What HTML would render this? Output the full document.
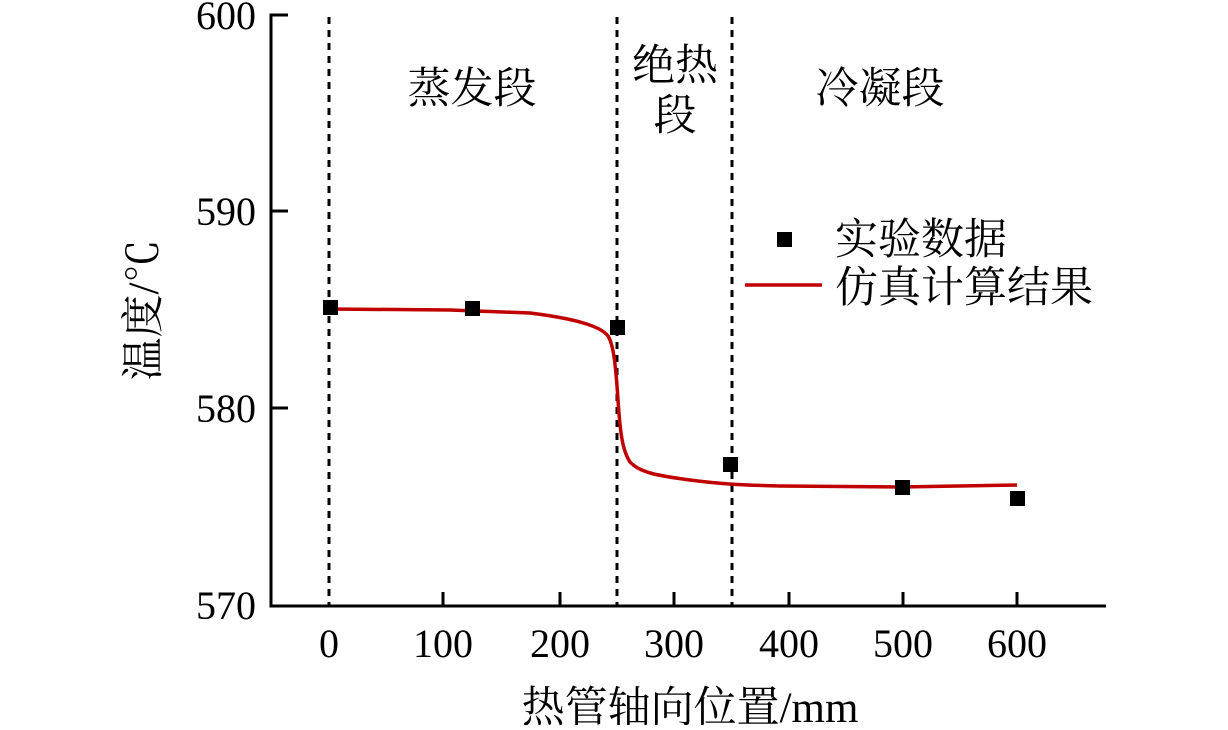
<!DOCTYPE html>
<html><head><meta charset="utf-8"><style>
body{margin:0;background:#fff;}
text{font-family:"Liberation Serif","Noto Serif CJK SC",serif;fill:#000;}
</style></head><body>
<svg width="1228" height="725" viewBox="0 0 1228 725" xmlns="http://www.w3.org/2000/svg">
<g stroke="#000" stroke-width="3" stroke-dasharray="7,6">
<line x1="329" y1="17" x2="329" y2="605"/>
<line x1="617" y1="17" x2="617" y2="605"/>
<line x1="732" y1="17" x2="732" y2="605"/>
</g>
<g stroke="#000" stroke-width="3" fill="none">
<polyline points="288,15 271,15 271,606 1106,606"/>
<line x1="271" y1="211" x2="288" y2="211"/>
<line x1="271" y1="408" x2="288" y2="408"/>
<line x1="443" y1="606" x2="443" y2="592"/>
<line x1="560" y1="606" x2="560" y2="592"/>
<line x1="674" y1="606" x2="674" y2="592"/>
<line x1="789" y1="606" x2="789" y2="592"/>
<line x1="903" y1="606" x2="903" y2="592"/>
<line x1="1017" y1="606" x2="1017" y2="592"/>
</g>
<path d="M329,309 L450,310 L530,313 C570,318 600,325 608,336 C614,345 616,370 618,400 C620,430 622,450 630,462 C640,473 660,476 690,480 C720,484 740,485 780,486 L900,487 L1017,485" stroke="#c00000" stroke-width="3.5" fill="none"/>
<g fill="#000">
<rect x="323" y="300" width="15" height="15"/>
<rect x="465" y="301" width="15" height="15"/>
<rect x="610" y="320" width="15" height="15"/>
<rect x="723" y="457" width="15" height="15"/>
<rect x="895" y="480" width="15" height="15"/>
<rect x="1010" y="491" width="15" height="15"/>
<rect x="777" y="232" width="15" height="15"/>
</g>
<line x1="745" y1="285" x2="822" y2="285" stroke="#c00000" stroke-width="3.5"/>
<g font-size="43">
<text x="835" y="254">实验数据</text>
<text x="835" y="302">仿真计算结果</text>
<text x="472" y="103" text-anchor="middle">蒸发段</text>
<text x="675" y="80" text-anchor="middle">绝热</text>
<text x="675" y="130" text-anchor="middle">段</text>
<text x="880" y="103" text-anchor="middle">冷凝段</text>
<text x="690" y="722" text-anchor="middle">热管轴向位置/mm</text>
<text transform="translate(158,310) rotate(-90)" text-anchor="middle">温度/℃</text>
</g>
<g font-size="40" text-anchor="end">
<text x="256" y="29">600</text>
<text x="256" y="225">590</text>
<text x="256" y="422">580</text>
<text x="256" y="619">570</text>
</g>
<g font-size="40" text-anchor="middle">
<text x="329" y="657">0</text>
<text x="443" y="657">100</text>
<text x="560" y="657">200</text>
<text x="674" y="657">300</text>
<text x="789" y="657">400</text>
<text x="903" y="657">500</text>
<text x="1017" y="657">600</text>
</g>
</svg>
</body></html>
